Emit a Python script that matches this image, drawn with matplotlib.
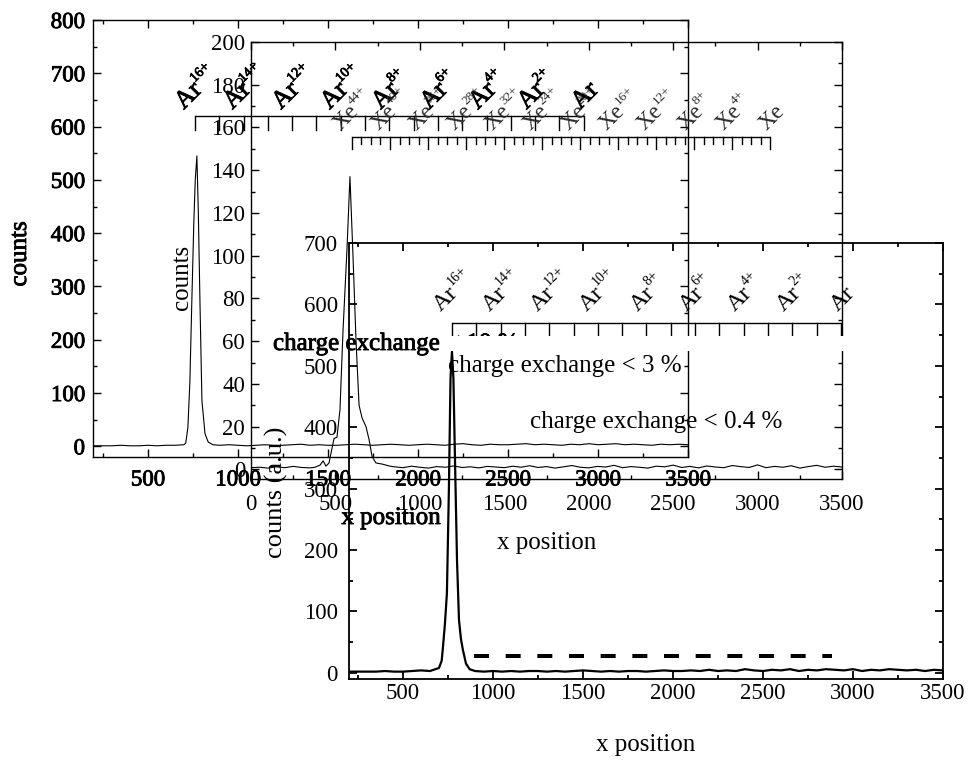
import numpy as np
import matplotlib
matplotlib.use('Agg')
import matplotlib.pyplot as plt
import matplotlib.patheffects as pe
from matplotlib.patches import Rectangle
from matplotlib.ticker import MultipleLocator
from matplotlib.transforms import offset_copy

plt.rcParams['font.family'] = ['Liberation Serif', 'DejaVu Serif']
plt.rcParams['lines.scale_dashes'] = False

# ---- values ----
# back panel (A): Ar beam, thin line
a_head_x = list(range(200, 651, 50))
a_head_y = [1, 1, 1, 2, 1, 1, 2, 1, 2, 2]
a_peak_x = [700, 710, 722, 733, 744, 755, 763, 772, 780, 789, 800, 817, 835, 861]
a_peak_y = [3, 6, 35, 120, 273, 420, 500, 545, 440, 273, 86, 24, 8, 3]
a_tail_x = list(range(900, 3501, 50))
a_tail_y = [2, 3, 2, 1, 2, 3, 2, 2, 3, 4, 2, 3, 2, 2, 3, 4, 3, 2, 3, 4,
            3, 2, 3, 4, 3, 2, 4, 5, 3, 2, 4, 3, 3, 4, 5, 3, 4, 3, 2, 4,
            3, 5, 3, 4, 5, 3, 4, 3, 2, 4, 3, 4, 3]

# middle panel (B): Xe beam
b_head_x = list(range(0, 351, 50))
b_head_y = [0.8, 1.0, 0.6, 1.2, 0.8, 1.4, 0.9, 0.7]
b_peak_x = [379, 409, 427, 444, 462, 480, 492, 509, 527, 545, 569, 586,
            604, 622, 640, 658, 681, 699, 717, 740, 776, 823]
b_peak_y = [1.0, 2.0, 4.0, 1.5, 3.0, 10, 14.5, 15, 28, 65, 104, 137,
            100, 60, 30, 24, 20, 14, 6, 3, 2.5, 1.5]
b_tail_x = list(range(850, 3501, 50))
b_tail_y = [1.2, 0.8, 1.5, 1.0, 0.6, 1.3, 1.0, 1.6, 0.9, 1.2,
            0.7, 1.4, 1.1, 0.8, 1.5, 1.0, 1.7, 0.9, 1.3, 0.6,
            1.2, 1.8, 1.0, 0.7, 1.4, 1.1, 1.9, 0.8, 1.3, 1.0,
            0.6, 1.5, 1.2, 2.0, 0.9, 1.4, 0.7, 1.6, 1.1, 0.8,
            1.8, 1.3, 0.9, 2.1, 0.8, 1.4, 1.0, 1.7, 0.6, 1.3,
            1.9, 1.0, 1.5, 1.1]

# front panel (C): Ar beam, thick line
c_head_x = list(range(200, 601, 50))
c_head_y = [2, 2, 2, 2, 3, 2, 2, 3, 4]
c_peak_x = [650, 700, 715, 722, 733, 744, 755, 764, 772, 780, 790, 800,
            811, 822, 833, 850, 870]
c_peak_y = [3, 8, 20, 42, 80, 130, 300, 480, 523, 480, 330, 184,
            86, 55, 37, 15, 6]
c_tail_x = list(range(900, 3501, 50))
c_tail_y = [3, 2, 3, 2, 3, 2, 3, 3, 2, 3, 2, 3, 4, 3, 2, 3, 2, 3, 3, 2,
            3, 4, 3, 3, 4, 3, 5, 3, 4, 3, 6, 4, 3, 5, 4, 6, 3, 5, 4, 6,
            5, 4, 6, 3, 5, 4, 6, 5, 4, 5, 3, 5, 4]
c_level_x = [894, 2883]
c_level_y = 28

# charge-state scales: one tick per charge, labels on every major tick
ar_labels = ['16+', '14+', '12+', '10+', '8+', '6+', '4+', '2+', '']
xe_labels = ['44+', '40+', '36+', '28+', '32+', '24+', '20+', '16+',
             '12+', '8+', '4+', '']
ar_span_a = (761, 2921)   # x of first and last Ar label, panel A
xe_span_b = (598, 3075)   # x of first and last Xe label, panel B
ar_span_c = (772, 2933)   # x of first and last Ar label, panel C

W, H = 970, 762
fig = plt.figure(figsize=(W / 100, H / 100), dpi=100)


def box(l, t, r, b):
    return [l / W, 1 - b / H, (r - l) / W, (b - t) / H]


def fp(x, y):
    return x / W, 1 - y / H


bold = [pe.withStroke(linewidth=0.6, foreground='k')]
name_w = {'Ar': 1.055, 'Xe': 1.166}


def style(ax, xlim, ylim, xmaj, ymaj, ymin, lw, padx, pady, fs=16.5):
    ax.set_facecolor('none')
    ax.set_xlim(*xlim)
    ax.set_ylim(*ylim)
    for s in ax.spines.values():
        s.set_linewidth(lw)
    ax.xaxis.set_major_locator(MultipleLocator(xmaj))
    ax.xaxis.set_minor_locator(MultipleLocator(xmaj / 2))
    ax.yaxis.set_major_locator(MultipleLocator(ymaj))
    ax.yaxis.set_minor_locator(MultipleLocator(ymin))
    ax.tick_params(which='both', direction='in', top=True, right=True,
                   width=lw, labelsize=fs)
    ax.tick_params(which='major', length=5.5)
    ax.tick_params(which='minor', length=3)
    ax.tick_params(axis='x', pad=padx)
    ax.tick_params(axis='y', pad=pady)


def ion_label(ax, x, y, name, sup, fs, fs_sup, color, effects):
    # name and charge drawn as two rotated texts, centred on the tick
    c = np.cos(np.radians(45))
    wn = name_w[name] * fs
    length = wn + (0.5 * (len(sup) - 1) + 0.56) * fs_sup if sup else wn
    h = 0.66 * fs
    dx = -c * (length - h) / 2
    tr = ax.get_xaxis_transform()
    kw = dict(rotation=45, rotation_mode='anchor', ha='left', va='baseline',
              color=color, path_effects=effects)
    ax.text(x, y, name, fontsize=fs,
            transform=offset_copy(tr, fig=fig, x=dx, y=0, units='points'), **kw)
    if sup:
        up = 0.45 * fs
        ox = dx + c * wn - c * up
        oy = c * wn + c * up
        ax.text(x, y, sup, fontsize=fs_sup,
                transform=offset_copy(tr, fig=fig, x=ox, y=oy, units='points'),
                **kw)


def ion_scale(ax, name, labels, span, every, ybase, tick, gap, fs, fs_sup,
              lw=1.0, minor_tick=None, color='k', effects=None):
    tr = ax.get_xaxis_transform()
    n = (len(labels) - 1) * every + 1
    pos = np.linspace(span[0], span[1], n)
    ax.plot(span, [ybase, ybase], color='k', lw=lw, transform=tr,
            solid_capstyle='butt')
    for i, x in enumerate(pos):
        major = i % every == 0
        t = tick if (major or minor_tick is None) else minor_tick
        ax.plot([x, x], [ybase, ybase - t], color='k', lw=lw, transform=tr)
        if major:
            ion_label(ax, x, ybase + gap, name, labels[i // every],
                      fs, fs_sup, color, effects)


# ---- panel A ----
axA = fig.add_axes(box(93, 20, 688, 457))
style(axA, (195, 3500), (-20, 800), 500, 100, 50, 1.0, 9, 5.8)
axA.plot(a_head_x + a_peak_x + a_tail_x, a_head_y + a_peak_y + a_tail_y,
         color='k', lw=0.8)
ion_scale(axA, 'Ar', ar_labels, ar_span_a, 2, 341 / 437, 14 / 437,
          6 / 437, 18.5, 10, lw=1.0, effects=bold)
fig.text(*fp(20, 254), 'counts', rotation=90, ha='center', va='center',
         fontsize=18, path_effects=bold)
fig.text(*fp(391, 518), 'x position', ha='center', va='center',
         fontsize=18, path_effects=bold)
fig.text(*fp(273, 344), 'charge exchange < 10 %', ha='left', va='center',
         fontsize=18, path_effects=bold)

# ---- panel B ----
axB = fig.add_axes(box(251, 42, 842, 479))
style(axB, (0, 3500), (-4.5, 200), 500, 20, 10, 1.0, 11, 4.3)
axB.plot(b_head_x + b_peak_x + b_tail_x, b_head_y + b_peak_y + b_tail_y,
         color='k', lw=0.8)
ion_scale(axB, 'Xe', xe_labels, xe_span_b, 4, 342 / 437, 12 / 437,
          6 / 437, 16.5, 9.5, lw=1.0, minor_tick=7 / 437, color='#2a2a2a')
fig.text(*fp(182, 277), 'counts', rotation=90, ha='center', va='center',
         fontsize=18)
fig.text(*fp(547, 543), 'x position', ha='center', va='center', fontsize=18)
fig.text(*fp(448, 366), 'charge exchange < 3 %', ha='left', va='center',
         fontsize=18)

# ---- panel C ----
axC = fig.add_axes(box(349, 243, 943, 679))
style(axC, (200, 3500), (-10, 700), 500, 100, 50, 1.3, 3, 8)
axC.plot(c_head_x + c_peak_x + c_tail_x, c_head_y + c_peak_y + c_tail_y,
         color='k', lw=1.6)
axC.plot(c_level_x, [c_level_y, c_level_y], color='k', lw=2.9,
         dashes=(10.8, 12))
ion_scale(axC, 'Ar', ar_labels, ar_span_c, 2, 356 / 436, 14 / 436,
          11 / 436, 17.5, 10, lw=1.0)
fig.text(*fp(276, 492), 'counts (a.u.)', rotation=90, ha='center',
         va='center', fontsize=19)
fig.text(*fp(646, 745), 'x position', ha='center', va='center', fontsize=18)
fig.text(*fp(530, 422), 'charge exchange < 0.4 %', ha='left', va='center',
         fontsize=18)

# white label box that hides part of the back panels
x0, y0 = fp(445, 351)
fig.add_artist(Rectangle((x0, y0), 403 / W, 15 / H, transform=fig.transFigure,
                         facecolor='white', edgecolor='none', zorder=5))

fig.canvas.draw()
for lbl in axA.get_xticklabels() + axA.get_yticklabels():
    lbl.set_path_effects(bold)

fig.savefig('out.png', dpi=100)
